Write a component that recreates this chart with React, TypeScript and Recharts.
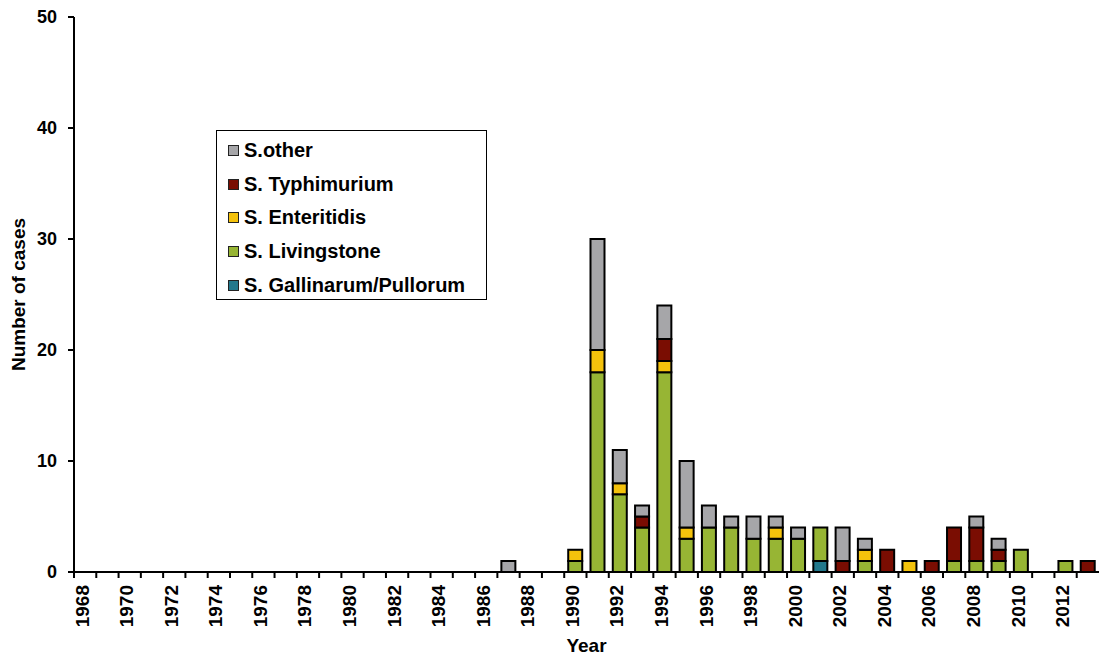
import { BarChart, Bar, XAxis, YAxis, Legend, Label } from 'recharts';

const years = [
  '1968', '1969', '1970', '1971', '1972', '1973', '1974', '1975', '1976', '1977',
  '1978', '1979', '1980', '1981', '1982', '1983', '1984', '1985', '1986', '1987',
  '1988', '1989', '1990', '1991', '1992', '1993', '1994', '1995', '1996', '1997',
  '1998', '1999', '2000', '2001', '2002', '2003', '2004', '2005', '2006', '2007',
  '2008', '2009', '2010', '2011', '2012', '2013',
];

// 1968-1986 are all zero
const gallinarum = [
  0, 0, 0, 0, 0, 0, 0, 0, 0, 0, 0, 0, 0, 0, 0, 0, 0, 0, 0,
  0, 0, 0, 0, 0, 0, 0, 0, 0, 0, 0, 0, 0, 0, 1, 0, 0, 0, 0, 0, 0, 0, 0, 0, 0, 0, 0,
];
const livingstone = [
  0, 0, 0, 0, 0, 0, 0, 0, 0, 0, 0, 0, 0, 0, 0, 0, 0, 0, 0,
  0, 0, 0, 1, 18, 7, 4, 18, 3, 4, 4, 3, 3, 3, 3, 0, 1, 0, 0, 0, 1, 1, 1, 2, 0, 1, 0,
];
const enteritidis = [
  0, 0, 0, 0, 0, 0, 0, 0, 0, 0, 0, 0, 0, 0, 0, 0, 0, 0, 0,
  0, 0, 0, 1, 2, 1, 0, 1, 1, 0, 0, 0, 1, 0, 0, 0, 1, 0, 1, 0, 0, 0, 0, 0, 0, 0, 0,
];
const typhimurium = [
  0, 0, 0, 0, 0, 0, 0, 0, 0, 0, 0, 0, 0, 0, 0, 0, 0, 0, 0,
  0, 0, 0, 0, 0, 0, 1, 2, 0, 0, 0, 0, 0, 0, 0, 1, 0, 2, 0, 1, 3, 3, 1, 0, 0, 0, 1,
];
const other = [
  0, 0, 0, 0, 0, 0, 0, 0, 0, 0, 0, 0, 0, 0, 0, 0, 0, 0, 0,
  1, 0, 0, 0, 10, 3, 1, 3, 6, 2, 1, 2, 1, 1, 0, 3, 1, 0, 0, 0, 0, 1, 1, 0, 0, 0, 0,
];

const yTicks = [0, 10, 20, 30, 40, 50];

// bottom to top of the stack
const series = [
  { key: 'gall', name: 'S. Gallinarum/Pullorum', color: '#22788c', values: gallinarum },
  { key: 'liv', name: 'S. Livingstone', color: '#97b534', values: livingstone },
  { key: 'ent', name: 'S. Enteritidis', color: '#f4c20c', values: enteritidis },
  { key: 'typh', name: 'S. Typhimurium', color: '#7a0d02', values: typhimurium },
  { key: 'other', name: 'S.other', color: '#a6a6a9', values: other },
];

const data = years.map((year, i) => {
  const row: any = { year };
  series.forEach(s => { row[s.key] = s.values[i]; });
  return row;
});

const FONT = '"Liberation Sans", Arial, sans-serif';

function YearTick(props: any) {
  const { x, y, index, payload } = props;
  const band = (props.width || 1025) / years.length;
  const left = x - band / 2;
  const tx = x - 3;
  const ty = y + 13;
  return (
    <g>
      <line x1={left} x2={left} y1={y} y2={y + 6} stroke="#000" strokeWidth={2} />
      {index % 2 === 0 && (
        <text x={tx} y={ty} transform={`rotate(-90, ${tx}, ${ty})`} textAnchor="end" dominantBaseline="central"
          fontSize={19} fontWeight="bold" fill="#000">{payload.value}</text>
      )}
    </g>
  );
}

function LegendBox() {
  return (
    <div style={{ width: 271, height: 170, boxSizing: 'border-box', border: '1.5px solid #000', background: '#fff', padding: '3px 0 0 11px' }}>
      {series.slice().reverse().map(s => (
        <div key={s.key} style={{ display: 'flex', alignItems: 'center', height: 33.6 }}>
          <span style={{ display: 'inline-block', width: 9, height: 9, background: s.color, border: '1px solid #222', marginRight: 5 }} />
          <span style={{ fontSize: 20, fontWeight: 'bold', color: '#000' }}>{s.name}</span>
        </div>
      ))}
    </div>
  );
}

export default function App() {
  return (
    <div style={{ position: 'absolute', left: 0, top: 0, fontFamily: FONT }}>
      <BarChart width={1099} height={657} data={data} margin={{ top: 17, right: 0, left: 0, bottom: 0 }} barSize={14}>
        <XAxis dataKey="year" interval={0} height={85} tickSize={0} tickMargin={0} tickLine={false}
          axisLine={{ stroke: '#000', strokeWidth: 2 }} tick={<YearTick />}>
          <Label content={(p: any) => {
            const vb = p.viewBox;
            return <text x={vb.x + vb.width / 2} y={vb.y + vb.height - 5} textAnchor="middle" fontSize={19} fontWeight="bold" fill="#000">Year</text>;
          }} />
        </XAxis>
        <YAxis width={74} domain={[0, 50]} ticks={yTicks} interval={0} tickSize={6} tickMargin={11}
          axisLine={{ stroke: '#000', strokeWidth: 2 }} tickLine={{ stroke: '#000', strokeWidth: 2 }}
          tick={{ fontSize: 18, fontWeight: 'bold', fill: '#000' }}>
          <Label content={(p: any) => {
            const vb = p.viewBox;
            const cx = 18;
            const cy = vb.y + vb.height / 2;
            return <text x={cx} y={cy} transform={`rotate(-90, ${cx}, ${cy})`} textAnchor="middle" dominantBaseline="central" fontSize={19} fontWeight="bold" fill="#000">Number of cases</text>;
          }} />
        </YAxis>
        <Legend layout="vertical" align="center" verticalAlign="middle"
          wrapperStyle={{ left: 216, top: 130, width: 271, height: 170 }} content={() => <LegendBox />} />
        {series.map(s => (
          <Bar key={s.key} dataKey={s.key} name={s.name} stackId="cases" fill={s.color} stroke="#000" strokeWidth={2} isAnimationActive={false} />
        ))}
      </BarChart>
    </div>
  );
}
